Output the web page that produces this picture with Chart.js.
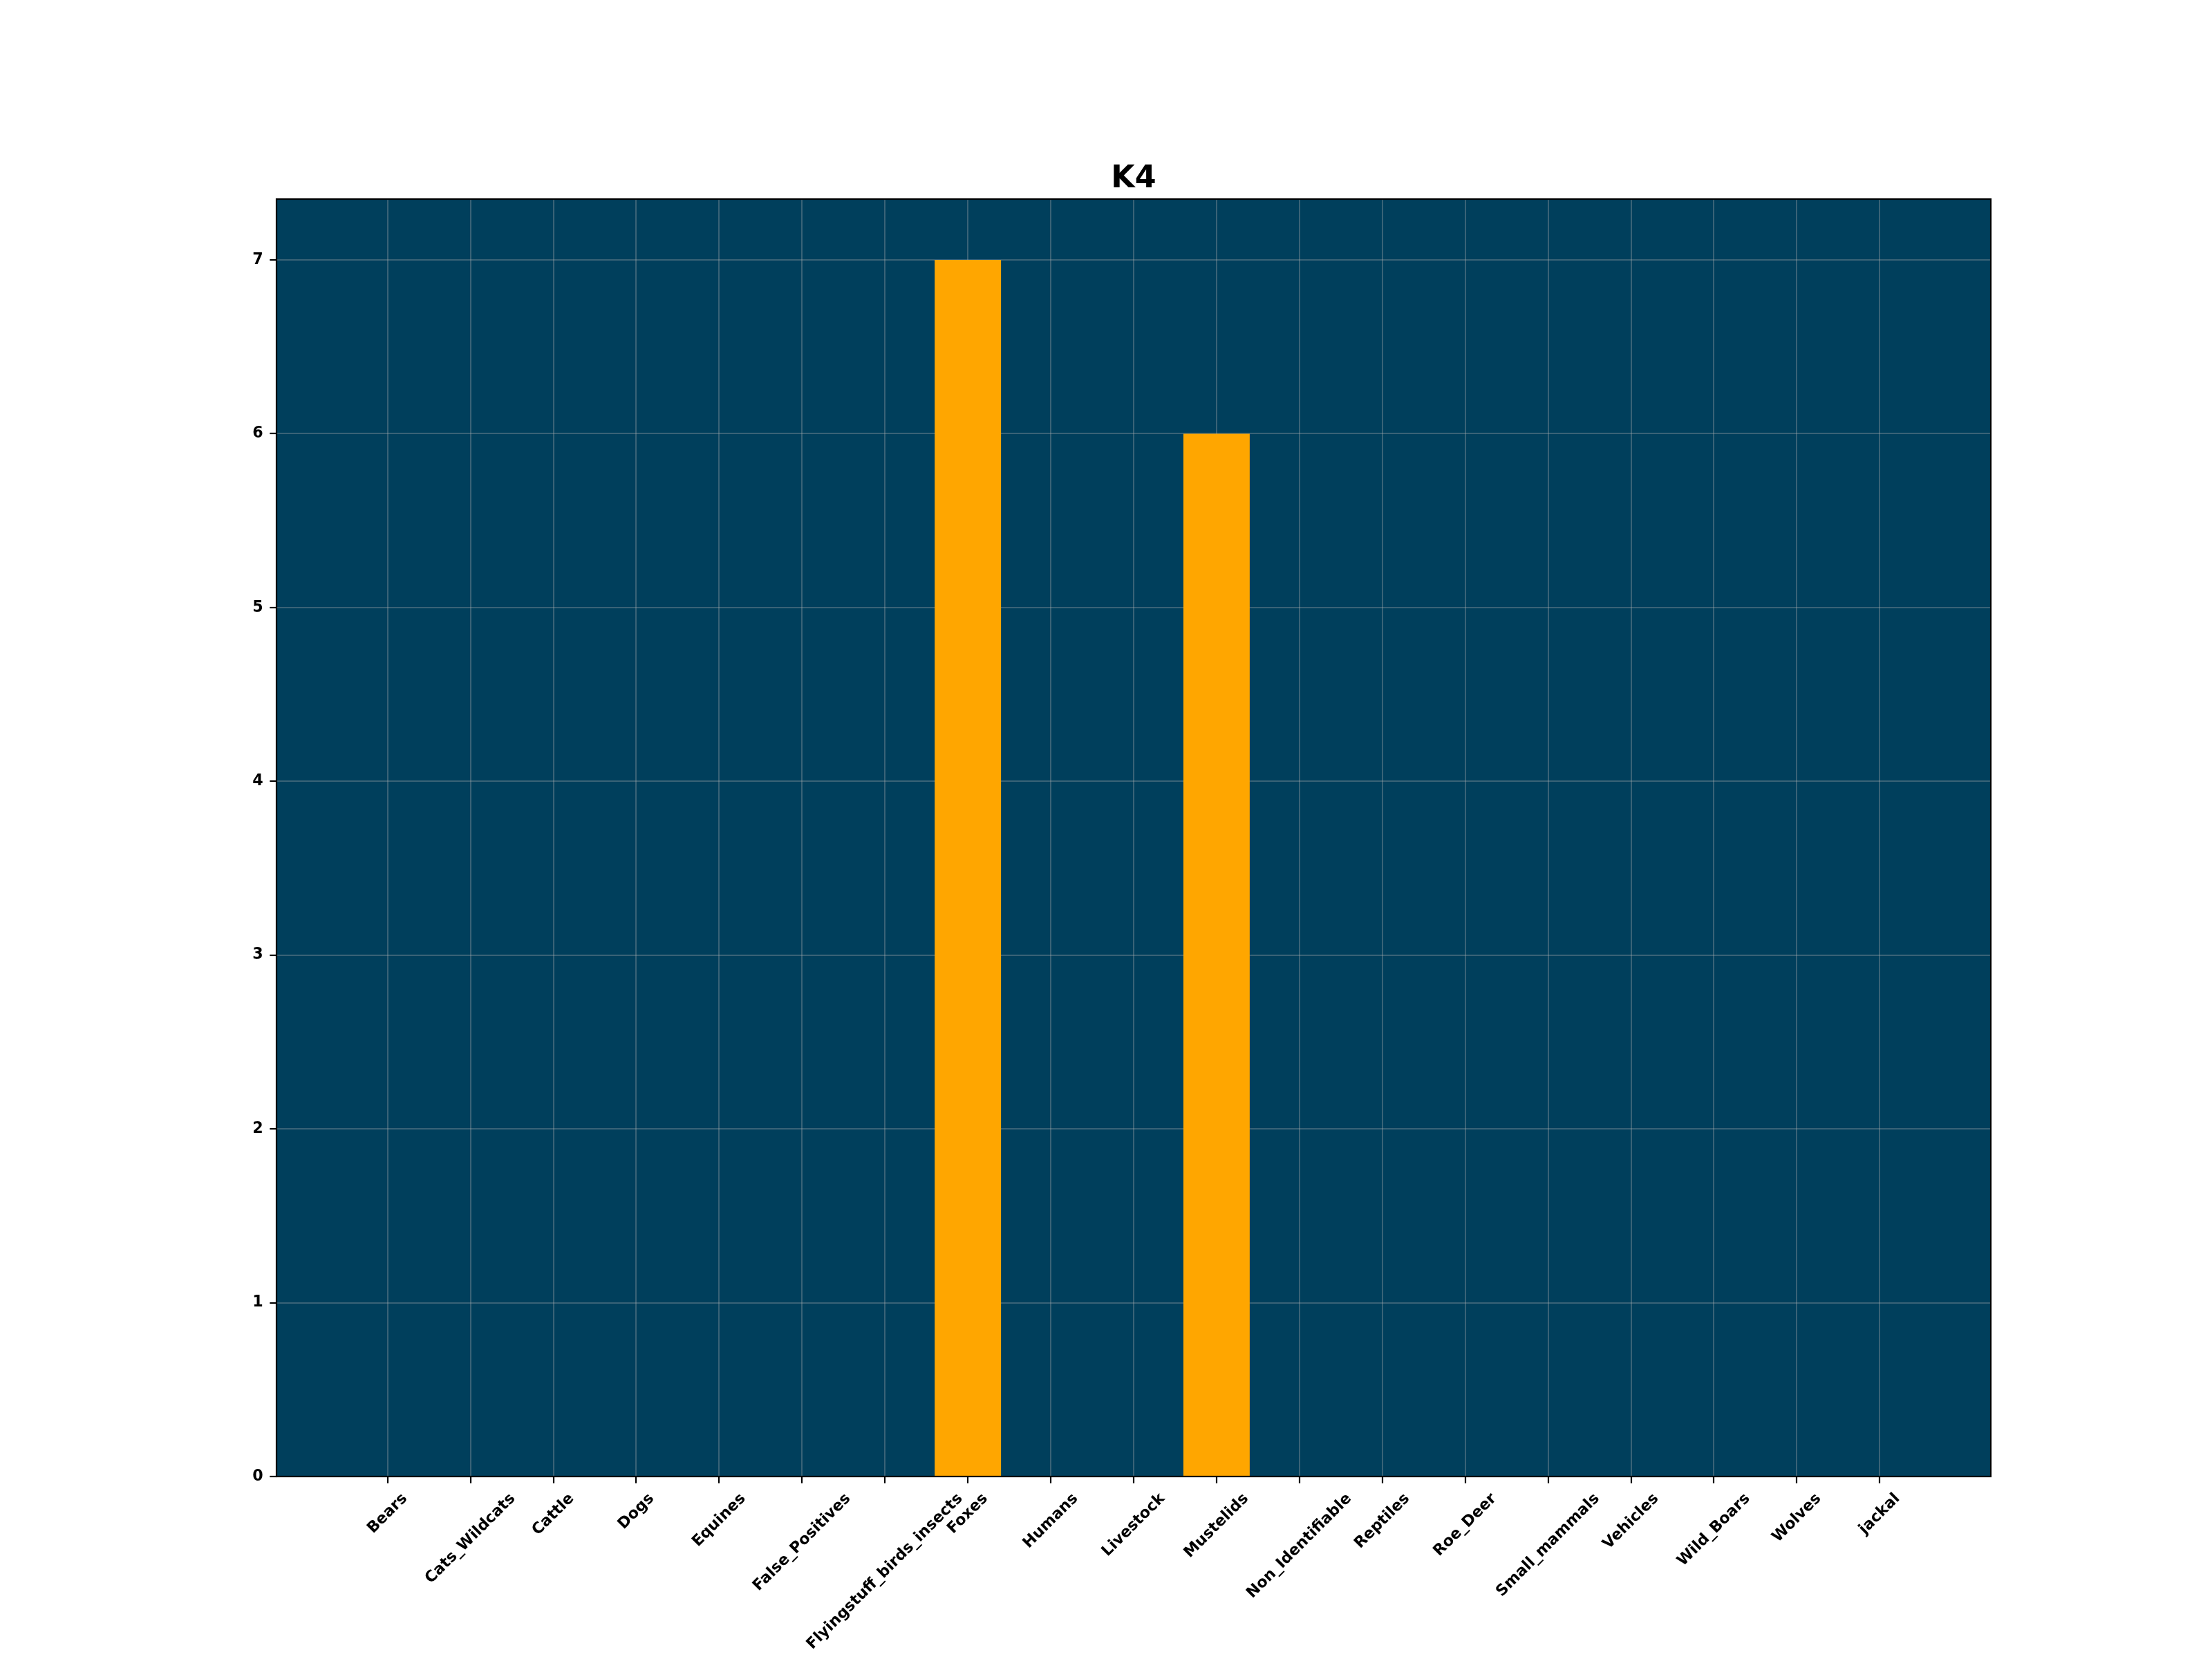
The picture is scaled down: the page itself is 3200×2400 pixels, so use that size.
<!DOCTYPE html>
<html>
<head>
<meta charset="utf-8">
<title>K4</title>
<script src="https://cdn.jsdelivr.net/npm/chart.js@4.4.1/dist/chart.umd.min.js"></script>
<style>
  html, body { margin: 0; padding: 0; background: #fff; }
</style>
</head>
<body>
<canvas id="k4Chart" width="3200" height="2400"></canvas>
<script>
// data
const categories = [
  'Bears', 'Cats_Wildcats', 'Cattle', 'Dogs', 'Equines', 'False_Positives',
  'Flyingstuff_birds_insects', 'Foxes', 'Humans', 'Livestock', 'Mustelids',
  'Non_Identifiable', 'Reptiles', 'Roe_Deer', 'Small_mammals', 'Vehicles',
  'Wild_Boars', 'Wolves', 'jackal'
];
const counts = [0, 0, 0, 0, 0, 0, 0, 7, 0, 0, 6, 0, 0, 0, 0, 0, 0, 0, 0];
const yTicks = [0, 1, 2, 3, 4, 5, 6, 7];
const chartTitle = 'K4';

// sizes (matplotlib at 200 dpi)
const TICK_FONT = 22.2;
const TICK_LEN = 9.7;
const TICK_PAD = 9.7;
const GRID = 'rgba(176,176,176,0.32)';

// x limits like matplotlib: bar width 0.8 plus 5% margins
const barW = 0.8;
const span = (categories.length - 1) + barW;
const xMin = -barW / 2 - span * 0.05;
const xMax = categories.length - 1 + barW / 2 + span * 0.05;
const yMax = Math.max(...counts) * 1.05;

Chart.defaults.font.family = '"DejaVu Sans"';

// plot background, frame, title and rotated x labels
const framePlugin = {
  id: 'frame',
  beforeDraw(chart) {
    const { ctx, chartArea: a } = chart;
    ctx.save();
    ctx.fillStyle = '#003f5c';
    ctx.fillRect(a.left, a.top, a.right - a.left, a.bottom - a.top);
    ctx.restore();
  },
  afterDraw(chart) {
    const { ctx, chartArea: a, scales } = chart;
    ctx.save();
    ctx.strokeStyle = '#000';
    ctx.lineWidth = 2.2;
    ctx.strokeRect(a.left, a.top, a.right - a.left, a.bottom - a.top);

    ctx.fillStyle = '#000';
    ctx.font = 'bold 44.4px "DejaVu Sans"';
    ctx.textAlign = 'center';
    ctx.textBaseline = 'alphabetic';
    ctx.fillText(chartTitle, (a.left + a.right) / 2, a.top - 16.7);

    ctx.font = `bold ${TICK_FONT}px "DejaVu Sans"`;
    ctx.textBaseline = 'middle';
    const top = a.bottom + TICK_LEN + TICK_PAD;
    categories.forEach((c, i) => {
      const x = scales.x.getPixelForValue(i);
      const w = ctx.measureText(c).width;
      const h = TICK_FONT * 1.17;
      const box = (w + h) * Math.SQRT1_2;
      ctx.save();
      ctx.translate(x, top + box / 2);
      ctx.rotate(-Math.PI / 4);
      ctx.fillText(c, 0, 0);
      ctx.restore();
    });
    ctx.restore();
  }
};

const ctx = document.getElementById('k4Chart').getContext('2d');
new Chart(ctx, {
  type: 'bar',
  data: {
    datasets: [{
      data: categories.map((c, i) => ({ x: i, y: counts[i] })),
      backgroundColor: '#ffa600',
      borderWidth: 0,
      barPercentage: barW,
      categoryPercentage: 1
    }]
  },
  options: {
    responsive: false,
    animation: false,
    devicePixelRatio: 1,
    layout: { padding: { top: 288, right: 320, left: 0, bottom: 0 } },
    plugins: {
      legend: { display: false },
      tooltip: { enabled: false },
      title: { display: false }
    },
    scales: {
      x: {
        type: 'linear',
        min: xMin,
        max: xMax,
        offset: false,
        afterBuildTicks: (scale) => {
          scale.ticks = categories.map((c, i) => ({ value: i }));
        },
        afterFit: (scale) => { scale.height = 264; },
        ticks: { display: false },
        border: { display: false },
        grid: {
          offset: false,
          color: GRID,
          lineWidth: 2,
          tickColor: '#000',
          tickLength: TICK_LEN,
          tickWidth: 2.2
        }
      },
      y: {
        min: 0,
        max: yMax,
        afterBuildTicks: (scale) => {
          scale.ticks = yTicks.map(v => ({ value: v }));
        },
        afterFit: (scale) => { scale.width = 400; },
        ticks: {
          color: '#000',
          padding: TICK_PAD,
          font: { size: TICK_FONT, weight: 'bold' }
        },
        border: { display: false },
        grid: {
          color: GRID,
          lineWidth: 2,
          tickColor: '#000',
          tickLength: TICK_LEN,
          tickWidth: 2.2
        }
      }
    }
  },
  plugins: [framePlugin]
});
</script>
</body>
</html>
